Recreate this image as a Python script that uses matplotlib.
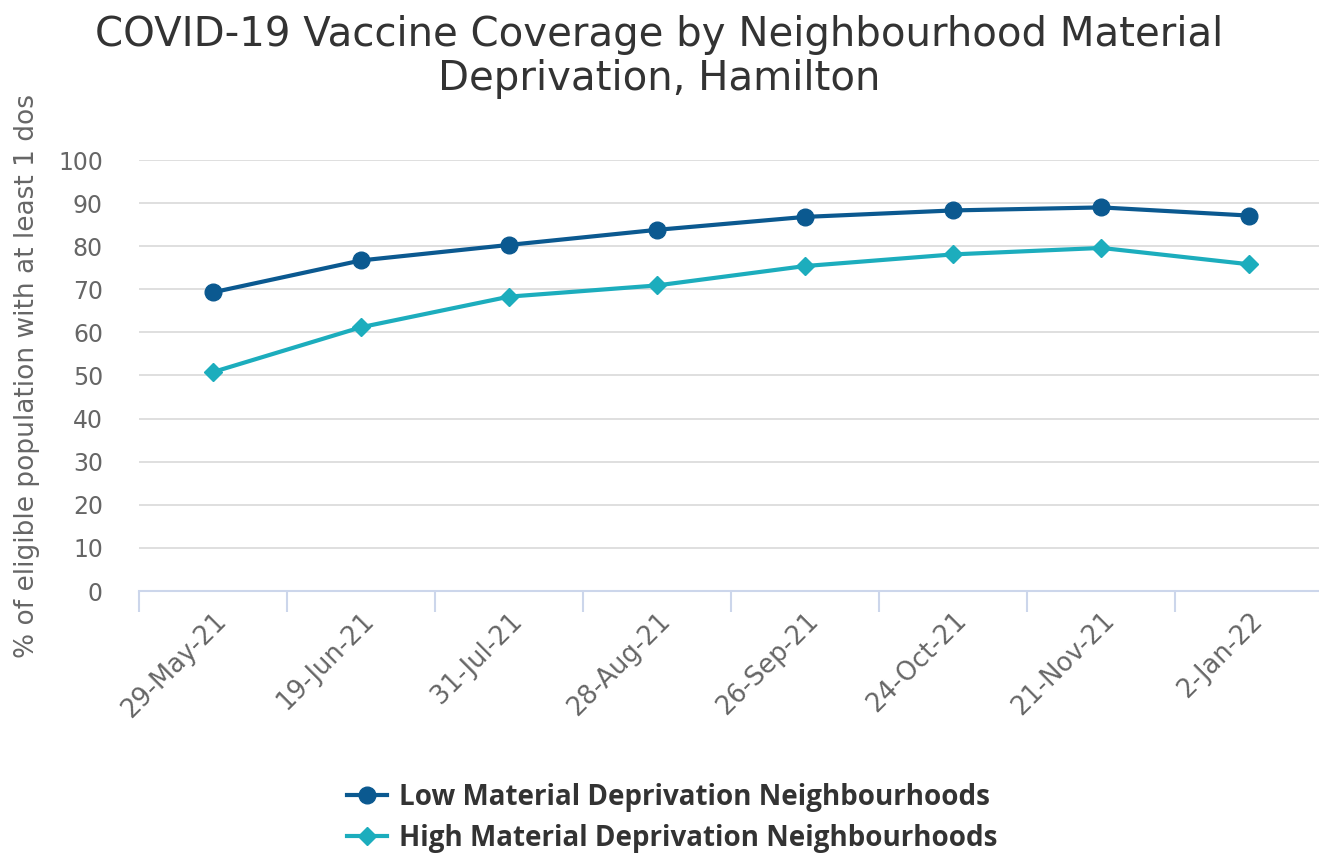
import matplotlib.pyplot as plt
import numpy as np

dates = ["29-May-21", "19-Jun-21", "31-Jul-21", "28-Aug-21",
         "26-Sep-21", "24-Oct-21", "21-Nov-21", "2-Jan-22"]
low_dep = [69.3, 76.7, 80.3, 83.8, 86.8, 88.3, 89.0, 87.1]
high_dep = [50.8, 61.2, 68.3, 70.9, 75.4, 78.1, 79.6, 75.8]

low_color = "#0b5990"
high_color = "#1cadbd"


def main():
    fig = plt.figure(figsize=(13.19, 8.55), dpi=100)
    ax = fig.add_axes([139 / 1319, 1 - 591 / 855, 1 - 139 / 1319, 431 / 855])

    x = np.arange(len(dates))
    ax.plot(x, low_dep, color=low_color, lw=3, marker="o", ms=12,
            label="Low Material Deprivation Neighbourhoods", zorder=3)
    ax.plot(x, high_dep, color=high_color, lw=3, marker="D", ms=9.5,
            label="High Material Deprivation Neighbourhoods", zorder=3)

    ax.set_xlim(-0.5, 7.47)
    ax.set_ylim(0, 100)
    ax.set_yticks(range(0, 101, 10))
    ax.yaxis.grid(True, color="#dcdcdc", lw=1.3)
    ax.set_axisbelow(True)
    for s in ["top", "right", "left"]:
        ax.spines[s].set_visible(False)
    ax.spines["bottom"].set_color("#ccd6eb")
    ax.spines["bottom"].set_linewidth(1.5)

    # category boundaries get the tick marks, labels sit in between
    ax.set_xticks(x - 0.5, minor=False)
    ax.set_xticklabels([])
    ax.tick_params(axis="x", which="major", length=15, width=1.5, color="#ccd6eb")
    ax.set_xticks(x, minor=True)
    ax.set_xticklabels(dates, minor=True, rotation=45, ha="right",
                       rotation_mode="anchor", fontsize=18.5, color="#666666")
    ax.tick_params(axis="x", which="minor", length=0, pad=12)
    ax.tick_params(axis="y", length=0, labelsize=17, labelcolor="#666666", pad=26)

    ax.set_ylabel("% of eligible population with at least 1 dos", fontsize=19,
                  color="#666666")
    ax.yaxis.set_label_coords(-0.084, 0.5)

    fig.suptitle("COVID-19 Vaccine Coverage by Neighbourhood Material\nDeprivation, Hamilton",
                 x=0.5, y=0.983, fontsize=29, color="#333333", linespacing=1.14)

    leg = fig.legend(loc="center", bbox_to_anchor=(672 / 1319, 1 - 818 / 855),
                     ncol=1, frameon=False, handlelength=1.45, handletextpad=0.4,
                     labelspacing=0.42,
                     prop={"family": "Open Sans", "weight": "bold", "size": 20})
    for t in leg.get_texts():
        t.set_color("#333333")

    fig.savefig("out.png", dpi=100)


if __name__ == '__main__':
    main()
